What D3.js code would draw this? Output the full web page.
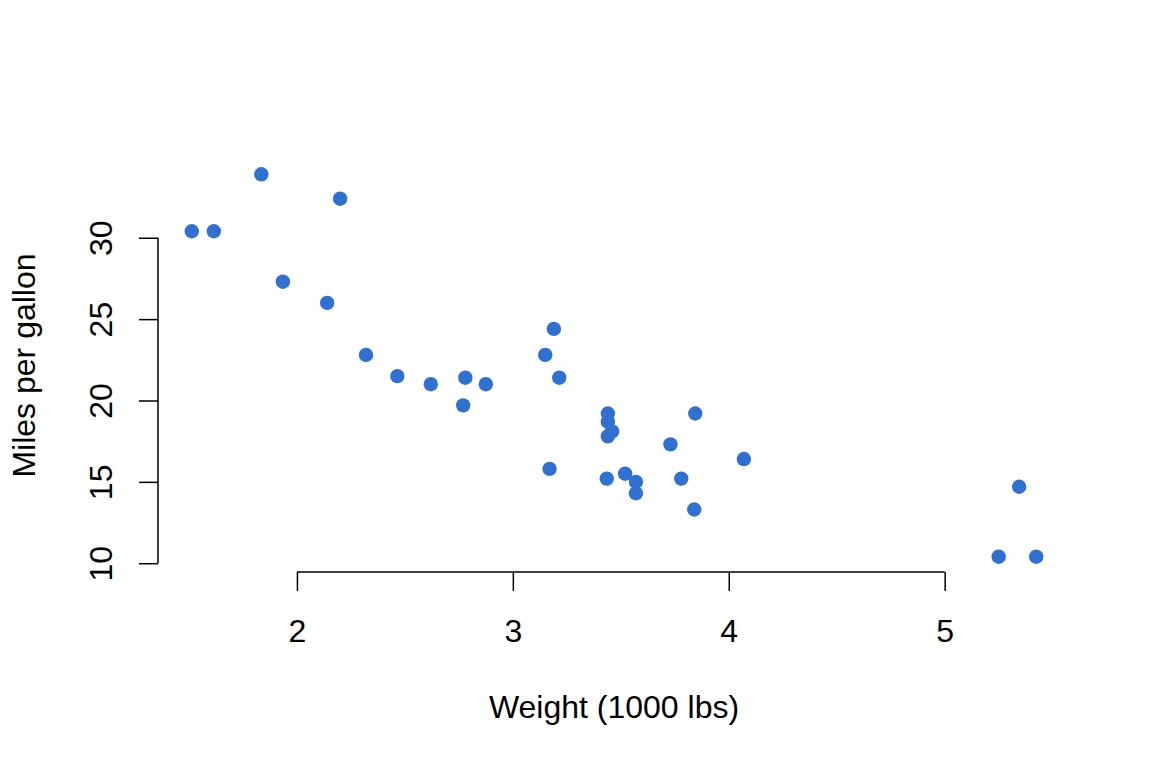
<!DOCTYPE html>
<html lang="en">
<head>
    <meta charset="utf-8">
    <script type="text/javascript" src="https://d3js.org/d3.v7.min.js"></script>
    <title>Weight vs MPG</title>
    <style>
        html, body {
            margin: 0;
            padding: 0;
            background: white;
        }
        text {
            font-family: "Liberation Sans", Arial, sans-serif;
            fill: black;
        }
    </style>
</head>
<body>
    <div id="chart"></div>

    <script type="text/javascript">

        // Car weights (1000 lbs) and miles per gallon
        const weights = [2.620, 2.875, 2.320, 3.215, 3.440, 3.460, 3.570, 3.190, 3.150, 3.440, 3.440,
                         4.070, 3.730, 3.780, 5.250, 5.424, 5.345, 2.200, 1.615, 1.835, 2.465, 3.520,
                         3.435, 3.840, 3.845, 1.935, 2.140, 1.513, 3.170, 2.770, 3.570, 2.780];
        const mpg = [21.0, 21.0, 22.8, 21.4, 18.7, 18.1, 14.3, 24.4, 22.8, 19.2, 17.8,
                     16.4, 17.3, 15.2, 10.4, 10.4, 14.7, 32.4, 30.4, 33.9, 21.5, 15.5,
                     15.2, 13.3, 19.2, 27.3, 26.0, 30.4, 15.8, 19.7, 15.0, 21.4];
        const xTicks = [2, 3, 4, 5];
        const yTicks = [10, 15, 20, 25, 30];

        const W = 1152, H = 768;
        // Plot region (R style, 4% padding around data range)
        const plot = {left: 158, right: 1070, top: 159, bottom: 572};

        const svg = d3.select("#chart")
            .append("svg")
                .attr("width", W)
                .attr("height", H);

        const xMin = d3.min(weights), xMax = d3.max(weights);
        const yMin = d3.min(mpg), yMax = d3.max(mpg);
        const xPad = (xMax - xMin) * 0.04, yPad = (yMax - yMin) * 0.04;

        const x = d3.scaleLinear()
                    .domain([xMin - xPad, xMax + xPad])
                    .range([plot.left, plot.right]);
        const y = d3.scaleLinear()
                    .domain([yMin - yPad, yMax + yPad])
                    .range([plot.bottom, plot.top]);

        // X axis
        const xAxis = svg.append("g")
            .attr("transform", `translate(0, ${plot.bottom})`)
            .call(d3.axisBottom(x).tickValues(xTicks).tickFormat(d3.format("d"))
                    .tickSize(19).tickPadding(28).tickSizeOuter(0));
        xAxis.select(".domain")
            .attr("d", `M${x(xTicks[0])},0H${x(xTicks[xTicks.length - 1])}`);
        xAxis.selectAll("line, path").attr("stroke", "black").attr("stroke-width", 1.5);
        xAxis.selectAll("text").style("font-size", "32px").attr("font-family", null);

        // Y axis
        const yAxis = svg.append("g")
            .attr("transform", `translate(${plot.left}, 0)`)
            .call(d3.axisLeft(y).tickValues(yTicks).tickFormat(d3.format("d"))
                    .tickSize(19).tickSizeOuter(0));
        yAxis.select(".domain")
            .attr("d", `M0,${y(yTicks[0])}V${y(yTicks[yTicks.length - 1])}`);
        yAxis.selectAll("line, path").attr("stroke", "black").attr("stroke-width", 1.5);
        yAxis.selectAll("text")
            .attr("x", null)
            .attr("dy", null)
            .attr("transform", "translate(-46,0) rotate(-90)")
            .attr("text-anchor", "middle")
            .style("font-size", "32px")
            .attr("font-family", null);

        // Points
        svg.append("g")
            .selectAll("circle")
            .data(weights)
            .join("circle")
                .attr("cx", d => x(d))
                .attr("cy", (d, i) => y(mpg[i]))
                .attr("r", 7.2)
                .attr("fill", "#3070D0");

        // Axis titles
        svg.append("text")
            .attr("x", (plot.left + plot.right) / 2)
            .attr("y", 718)
            .attr("text-anchor", "middle")
            .style("font-size", "32px")
            .text("Weight (1000 lbs)");

        svg.append("text")
            .attr("transform", `translate(35, ${(plot.top + plot.bottom) / 2}) rotate(-90)`)
            .attr("text-anchor", "middle")
            .style("font-size", "32px")
            .text("Miles per gallon");

    </script>
</body>
</html>
